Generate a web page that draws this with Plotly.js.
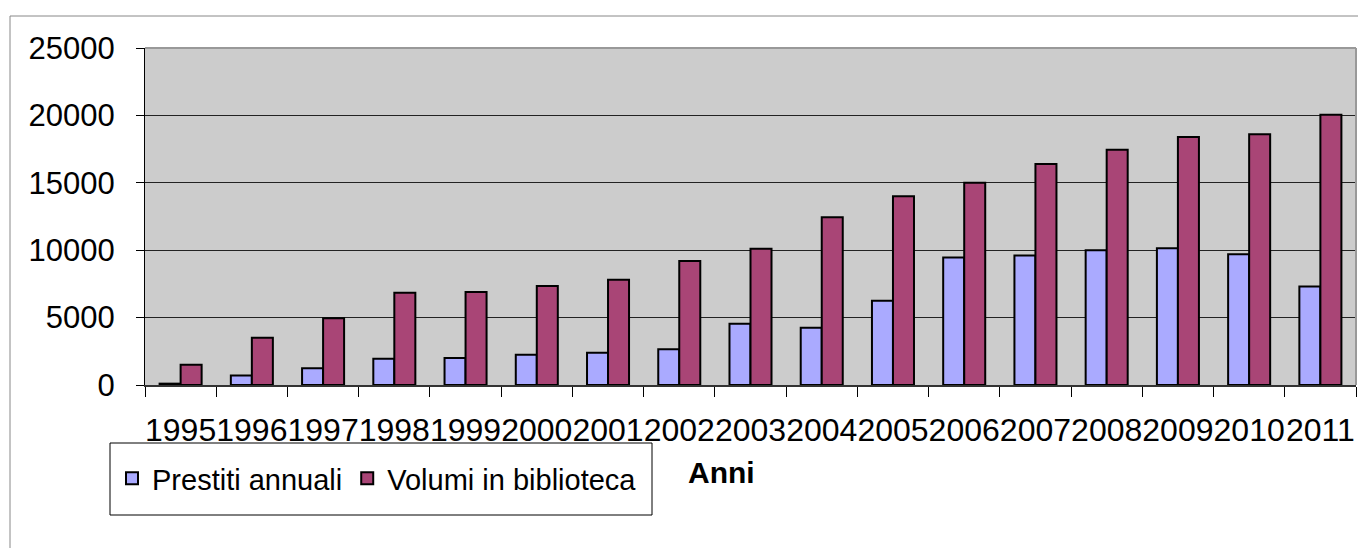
<!DOCTYPE html>
<html>
<head>
<meta charset="utf-8">
<script src="https://cdn.plot.ly/plotly-3.0.1.min.js"></script>
<style>html,body{margin:0;padding:0;background:#fff;}#chart{width:1358px;height:548px;}</style>
</head>
<body>
<div id="chart"></div>
<script>
const years = ["1995","1996","1997","1998","1999","2000","2001","2002","2003","2004","2005","2006","2007","2008","2009","2010","2011"];
const prestitiAnnuali = [100,700,1250,1950,2000,2250,2400,2650,4550,4250,6250,9450,9600,10000,10150,9700,7300];
const volumiBiblioteca = [1500,3500,4950,6850,6900,7350,7800,9200,10100,12450,14000,15000,16400,17450,18400,18600,20050];
const yTicks = [0,5000,10000,15000,20000,25000];

const FONT = "Liberation Sans, Arial, sans-serif";

const traces = [
  {type:'bar', name:'Prestiti annuali', x:years, y:prestitiAnnuali,
   marker:{color:'#aaaaff', line:{color:'#000', width:2}}},
  {type:'bar', name:'Volumi in biblioteca', x:years, y:volumiBiblioteca,
   marker:{color:'#a94576', line:{color:'#000', width:2}}}
];

const L=145, R=1356, T=48, B=385;
const W=R-L, H=B-T;
const px = v => (v-L)/W;
const py = v => (B-v)/H;

const layout = {
  width:1358, height:548,
  margin:{l:L, r:1358-R, t:T, b:548-B, pad:0},
  paper_bgcolor:'#ffffff',
  plot_bgcolor:'#cccccc',
  barmode:'group',
  bargap:0.41,
  bargroupgap:0,
  font:{family:FONT, size:30, color:'#000'},
  showlegend:true,
  legend:{orientation:'h', x:px(112), y:py(453), xanchor:'left', yanchor:'top',
          bgcolor:'rgba(0,0,0,0)', borderwidth:0,
          font:{family:FONT, size:29, color:'#000'}, traceorder:'normal'},
  xaxis:{type:'category', tickson:'boundaries', ticks:'outside', ticklen:10, tickwidth:1,
         tickcolor:'#000', showline:true, linecolor:'#333', linewidth:2, tickangle:0,
         showgrid:false, ticklabelstandoff:16, tickfont:{family:FONT, size:32},
         title:{text:''}, fixedrange:true},
  yaxis:{range:[0,25000], tickvals:yTicks, ticktext:yTicks.map(String),
         ticks:'outside', ticklen:8, tickcolor:'#000', showline:true, linecolor:'#000', linewidth:1,
         showgrid:true, gridcolor:'#222', gridwidth:1, zeroline:false,
         ticklabelstandoff:15, tickfont:{family:FONT, size:31}, fixedrange:true},
  shapes:[
    {type:'rect', xref:'paper', yref:'paper', x0:px(10), x1:px(1370), y0:py(600), y1:py(16),
     line:{color:'#888', width:1}, fillcolor:'rgba(0,0,0,0)', layer:'below'},
    {type:'rect', xref:'paper', yref:'paper', x0:px(110), x1:px(652), y0:py(515), y1:py(443),
     line:{color:'#000', width:1}, fillcolor:'#ffffff', layer:'below'},
    {type:'line', xref:'paper', yref:'paper', x0:0, x1:1, y0:1, y1:1, line:{color:'#999', width:2}},
    {type:'line', xref:'paper', yref:'paper', x0:1, x1:1, y0:0, y1:1, line:{color:'#999', width:2}}
  ],
  annotations:[
    {text:'<b>Anni</b>', xref:'paper', yref:'paper', x:px(721), y:py(472), xanchor:'center', yanchor:'middle',
     showarrow:false, font:{family:FONT, size:30, color:'#000'}}
  ]
};

Plotly.newPlot('chart', traces, layout, {displayModeBar:false, staticPlot:true});
</script>
</body>
</html>
